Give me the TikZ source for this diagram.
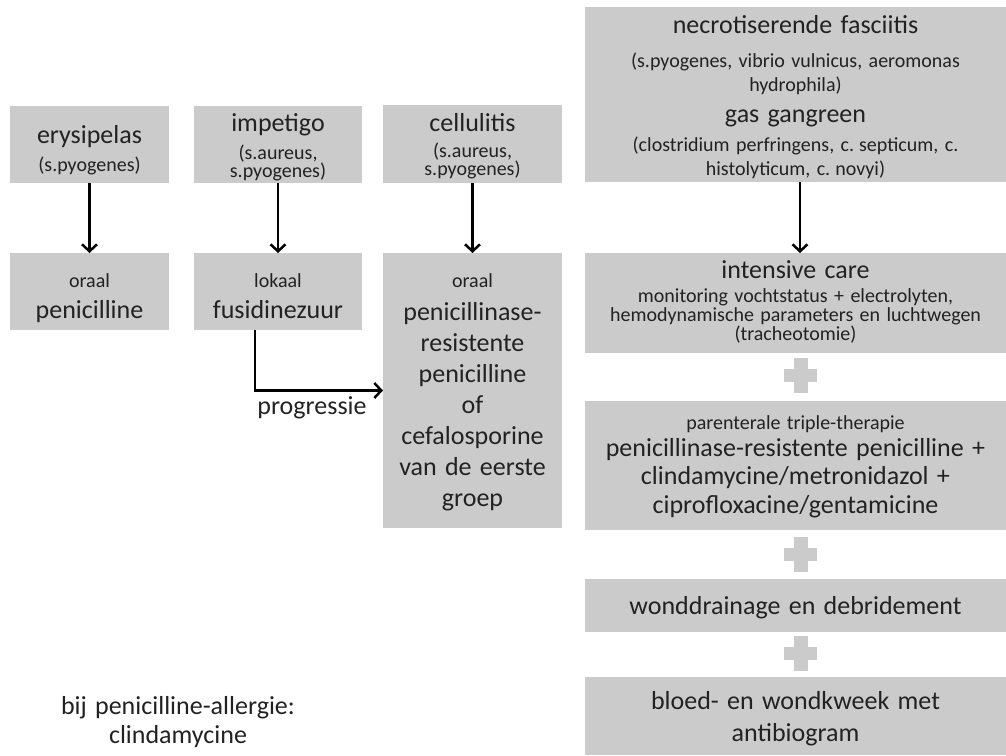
\documentclass[tikz,border=0pt]{standalone}
\usepackage{fontspec}
\setmainfont{Carlito}
\usetikzlibrary{arrows.meta}
\definecolor{boxgray}{HTML}{CBCBCB}
\definecolor{txt}{HTML}{222222}
\newcommand\wsp{\spaceskip=0.32em\relax}
\newcommand\fsz[2]{\fontsize{#1}{#2}\selectfont\wsp}
\newcommand\bigf{\fsz{26}{31}}
\newcommand\smf{\fsz{20}{18}}
\begin{document}
\begin{tikzpicture}[x=1pt,y=-1pt,
  box/.style={fill=boxgray, text=txt, inner sep=0pt, outer sep=0pt, align=center, text height=0pt},
  arr/.style={draw=black, line width=2.5pt, -{Straight Barb[length=7pt,width=15pt,line width=2.5pt]}},
  plus/.style={fill=boxgray},
  lbl/.style={text=txt, inner sep=0pt, align=center}
]
\useasboundingbox (0,0) rectangle (1006,755);

% top row
\node[box, text width=159pt, minimum height=77pt, text depth=3pt] (ery) at (89.5,144.5)
  {\bigf erysipelas\par\smf\vspace{9pt}(s.pyogenes)\par};
\node[box, text width=168pt, minimum height=77pt, text depth=26pt] (imp) at (278,144.5)
  {\bigf impetigo\par\smf\vspace{8pt}(s.aureus,\\s.pyogenes)\par};
\node[box, text width=179pt, minimum height=78pt, text depth=26pt] (cel) at (472.5,144)
  {\bigf cellulitis\par\smf\vspace{8pt}(s.aureus,\\s.pyogenes)\par};

% second row
\node[box, text width=159pt, minimum height=77pt, text depth=9pt] (pen) at (89.5,291.5)
  {\smf oraal\par\bigf penicilline\par};
\node[box, text width=168pt, minimum height=77pt, text depth=9pt] (fus) at (278,291.5)
  {\smf lokaal\par\bigf fusidinezuur\par};
\node[box, text width=179pt, minimum height=275pt, text depth=207pt] (celt) at (472.5,390.5)
  {\smf oraal\par\bigf\vspace{2pt}penicillinase-\\resistente\\penicilline\\of\\cefalosporine\\van de eerste\\groep\par};

% right column
\node[box, text width=421pt, minimum height=175pt, text depth=123pt] (nec) at (795.5,94.5)
  {\bigf necrotiserende fasciitis\par
   \fsz{20}{24}\vspace{10pt}(s.pyogenes, vibrio vulnicus, aeromonas\\hydrophila)\par
   \bigf gas gangreen\par
   \fsz{20}{24}\vspace{5pt}(clostridium perfringens, c. septicum, c.\\histolyticum, c. novyi)\par};
\node[box, text width=421pt, minimum height=100pt, text depth=50pt] (ic) at (795.5,303)
  {\bigf intensive care\par
   \fsz{20}{19}\vspace{5pt}monitoring vochtstatus + electrolyten,\\hemodynamische parameters en luchtwegen\\(tracheotomie)\par};
\node[box, text width=421pt, minimum height=129pt, text depth=71.5pt] (par) at (795.5,465.5)
  {\smf parenterale triple-therapie\par
   \fsz{26}{28.5}\vspace{-2pt}penicillinase-resistente penicilline +\\clindamycine/metronidazol +\\ciprofloxacine/gentamicine\par};
\node[box, text width=421pt, minimum height=53pt, text height=17pt, text depth=0pt] (won) at (795.5,605.5)
  {\bigf wonddrainage en debridement\par};
\node[box, text width=421pt, minimum height=78pt, text depth=14pt] (blo) at (795.5,716)
  {\fsz{26}{32}bloed- en wondkweek met\\antibiogram\par};

% plus signs
\foreach \cy in {375.5, 554.5, 653.5}{
  \fill[plus] (784,\cy-6.5) rectangle (817,\cy+6.5);
  \fill[plus] (794,\cy-17.5) rectangle (808,\cy+17.5);
}

% arrows
\draw[arr] (ery.south) -- (pen.north);
\draw[arr] (imp.south) -- (fus.north);
\draw[arr] (cel.south) -- (celt.north);
\draw[arr] ([xshift=4.5pt]nec.south) -- ([xshift=4.5pt]ic.north);
\draw[arr] ([xshift=-23pt]fus.south) |- (celt.west);

\node[lbl, font=\bigf, anchor=base] (prog) at (312,414) {progressie};
\node[lbl, text width=320pt, text height=0pt, text depth=0pt] (allerg) at (178,714)
  {\fsz{26}{29}bij penicilline-allergie:\\clindamycine\par};
\end{tikzpicture}
\end{document}
